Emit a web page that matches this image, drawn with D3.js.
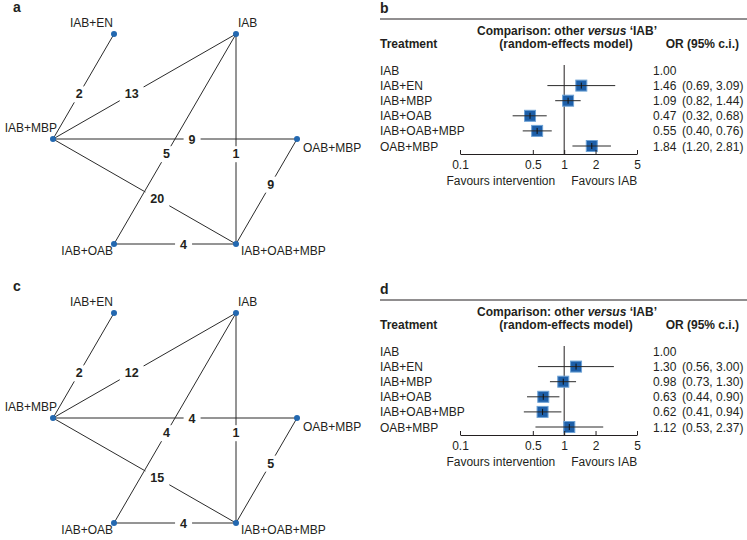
<!DOCTYPE html>
<html><head><meta charset="utf-8">
<script src="https://cdn.jsdelivr.net/npm/d3@7"></script>
<style>
body{margin:0;background:#fff}
text{font-family:"Liberation Sans",Arial,Helvetica,sans-serif;fill:#231f20}
</style>
</head><body>
<svg id="chart" width="747" height="540"></svg>
<script>
// ---------- DATA ----------
const treatments = ["IAB+EN", "IAB", "IAB+MBP", "OAB+MBP", "IAB+OAB", "IAB+OAB+MBP"];
// network edges: [from, to, number of studies]
const edgesA = [
  ["IAB+EN", "IAB+MBP", 2], ["IAB", "IAB+MBP", 13], ["IAB+MBP", "OAB+MBP", 9],
  ["IAB", "IAB+OAB+MBP", 1], ["IAB", "IAB+OAB", 5], ["IAB+MBP", "IAB+OAB+MBP", 20],
  ["IAB+OAB+MBP", "OAB+MBP", 9], ["IAB+OAB", "IAB+OAB+MBP", 4]
];
const edgesC = [
  ["IAB+EN", "IAB+MBP", 2], ["IAB", "IAB+MBP", 12], ["IAB+MBP", "OAB+MBP", 4],
  ["IAB", "IAB+OAB+MBP", 1], ["IAB", "IAB+OAB", 4], ["IAB+MBP", "IAB+OAB+MBP", 15],
  ["IAB+OAB+MBP", "OAB+MBP", 5], ["IAB+OAB", "IAB+OAB+MBP", 4]
];
const forestTreatments = ["IAB", "IAB+EN", "IAB+MBP", "IAB+OAB", "IAB+OAB+MBP", "OAB+MBP"];
const orB   = [1.00, 1.46, 1.09, 0.47, 0.55, 1.84];
const lowB  = [null, 0.69, 0.82, 0.32, 0.40, 1.20];
const highB = [null, 3.09, 1.44, 0.68, 0.76, 2.81];
const orD   = [1.00, 1.30, 0.98, 0.63, 0.62, 1.12];
const lowD  = [null, 0.56, 0.73, 0.44, 0.41, 0.53];
const highD = [null, 3.00, 1.30, 0.90, 0.94, 2.37];
const axisTicks = [0.1, 0.5, 1, 2, 5];

// ---------- LAYOUT ----------
const nodeGrid = {
  "IAB+EN": [1, 0], "IAB": [3, 0], "IAB+MBP": [0, 1],
  "OAB+MBP": [4, 1], "IAB+OAB": [1, 2], "IAB+OAB+MBP": [3, 2]
};
const nodeLabel = {
  "IAB+EN": {dx: -1, dy: -7, a: "end"},
  "IAB": {dx: 2, dy: -7, a: "start"},
  "IAB+MBP": {dx: 4, dy: -7, a: "end"},
  "OAB+MBP": {dx: 6, dy: 13, a: "start"},
  "IAB+OAB": {dx: -1, dy: 11, a: "end"},
  "IAB+OAB+MBP": {dx: 5, dy: 11, a: "start"}
};
const BLUE = "#2368b0";
const svg = d3.select("#chart");

function network(letter, edges, off) {
  const g = svg.append("g");
  const x = d3.scaleLinear().domain([0, 4]).range([53, 297]);
  const y = d3.scaleLinear().domain([0, 2]).range([34 + off, 244 + off]);
  const px = n => x(nodeGrid[n][0]), py = n => y(nodeGrid[n][1]);
  g.append("text").attr("x", 13).attr("y", 12 + off).attr("font-weight", "bold")
    .attr("font-size", 14).text(letter);
  g.selectAll("line.e").data(edges).join("line").attr("class", "e")
    .attr("x1", d => px(d[0])).attr("y1", d => py(d[0]))
    .attr("x2", d => px(d[1])).attr("y2", d => py(d[1]))
    .attr("stroke", "#2b2b2b").attr("stroke-width", 1);
  const t = 0.57;
  const lg = g.selectAll("g.lab").data(edges).join("g").attr("class", "lab")
    .attr("transform", d => `translate(${px(d[0]) + t * (px(d[1]) - px(d[0]))},${py(d[0]) + t * (py(d[1]) - py(d[0]))})`);
  lg.append("rect").attr("fill", "#fff");
  lg.append("text").attr("text-anchor", "middle").attr("dy", "0.36em")
    .attr("font-weight", "bold").attr("font-size", 12.5).text(d => d[2]);
  lg.each(function () {
    const b = d3.select(this).select("text").node().getBBox();
    d3.select(this).select("rect").attr("x", b.x - 5).attr("y", b.y - 1)
      .attr("width", b.width + 10).attr("height", b.height + 2);
  });
  g.selectAll("circle").data(treatments).join("circle")
    .attr("cx", px).attr("cy", py).attr("r", 3).attr("fill", BLUE);
  g.selectAll("text.nl").data(treatments).join("text").attr("class", "nl")
    .attr("x", d => px(d) + nodeLabel[d].dx).attr("y", d => py(d) + nodeLabel[d].dy)
    .attr("text-anchor", d => nodeLabel[d].a).attr("font-size", 12).text(d => d);
}

function forest(letter, ors, lows, highs, off) {
  const g = svg.append("g");
  const x = d3.scaleLog().domain([0.1, 5]).range([460, 637]);
  const y = d3.scalePoint().domain(forestTreatments).range([70.5 + off, 146 + off]);
  g.append("text").attr("x", 380).attr("y", 13 + off).attr("font-weight", "bold")
    .attr("font-size", 14).text(letter);
  g.append("line").attr("x1", 380).attr("x2", 747).attr("y1", 19 + off).attr("y2", 19 + off)
    .attr("stroke", "#231f20").attr("stroke-width", 1);
  const h1 = g.append("text").attr("x", 567).attr("y", 35 + off).attr("text-anchor", "middle")
    .attr("font-weight", "bold").attr("font-size", 12);
  h1.append("tspan").text("Comparison: other ");
  h1.append("tspan").attr("font-style", "italic").text("versus");
  h1.append("tspan").text(" \u2018IAB\u2019");
  g.append("text").attr("x", 566).attr("y", 47.5 + off).attr("text-anchor", "middle")
    .attr("font-weight", "bold").attr("font-size", 12).text("(random-effects model)");
  g.append("text").attr("x", 380).attr("y", 47.5 + off)
    .attr("font-weight", "bold").attr("font-size", 12).text("Treatment");
  g.append("text").attr("x", 739).attr("y", 47.5 + off).attr("text-anchor", "end")
    .attr("font-weight", "bold").attr("font-size", 12).text("OR (95% c.i.)");

  const rows = forestTreatments.map((t, i) => ({t, or: ors[i], lo: lows[i], hi: highs[i]}));
  const axisY = 154 + off;
  g.append("line").attr("x1", x(1)).attr("x2", x(1)).attr("y1", 65 + off).attr("y2", axisY)
    .attr("stroke", "#231f20").attr("stroke-width", 1);
  g.selectAll("text.tr").data(rows).join("text").attr("class", "tr")
    .attr("x", 380).attr("y", d => y(d.t) + 4.5).attr("font-size", 12).text(d => d.t);
  g.selectAll("text.or").data(rows).join("text").attr("class", "or")
    .attr("x", 653).attr("y", d => y(d.t) + 4.5).attr("font-size", 12).text(d => d.or.toFixed(2));
  g.selectAll("text.ci").data(rows.filter(d => d.lo != null)).join("text").attr("class", "ci")
    .attr("x", 682).attr("y", d => y(d.t) + 4.5).attr("font-size", 12)
    .text(d => `(${d.lo.toFixed(2)}, ${d.hi.toFixed(2)})`);
  const est = rows.filter(d => d.lo != null);
  g.selectAll("rect.sq").data(est).join("rect").attr("class", "sq")
    .attr("x", d => x(d.or) - 5.5).attr("y", d => y(d.t) - 5.5).attr("width", 11).attr("height", 11)
    .attr("fill", "#1d5fa9").attr("stroke", "#6fa3d6").attr("stroke-width", 1);
  g.selectAll("line.ci").data(est).join("line").attr("class", "ci")
    .attr("x1", d => x(d.lo)).attr("x2", d => x(d.hi)).attr("y1", d => y(d.t)).attr("y2", d => y(d.t))
    .attr("stroke", "#2b2b2b").attr("stroke-width", 1);
  g.selectAll("line.tk").data(est).join("line").attr("class", "tk")
    .attr("x1", d => x(d.or)).attr("x2", d => x(d.or)).attr("y1", d => y(d.t) - 3).attr("y2", d => y(d.t) + 3)
    .attr("stroke", "#111").attr("stroke-width", 1);

  const ax = g.append("g").attr("transform", `translate(0,${axisY})`)
    .call(d3.axisBottom(x).tickValues(axisTicks).tickFormat(d3.format("~g"))
      .tickSizeInner(-4).tickSizeOuter(0).tickPadding(6));
  ax.select(".domain").attr("stroke", "#231f20");
  ax.selectAll(".tick line").attr("stroke", "#231f20");
  ax.selectAll(".tick text").attr("font-size", 12).attr("font-family", "Liberation Sans, Arial, sans-serif").attr("fill", "#231f20");
  g.append("text").attr("x", x(1) - 9).attr("y", 184.5 + off).attr("text-anchor", "end")
    .attr("font-size", 12).text("Favours intervention");
  g.append("text").attr("x", x(1) + 7).attr("y", 184.5 + off)
    .attr("font-size", 12).text("Favours IAB");
}

network("a", edgesA, 0);
network("c", edgesC, 279);
forest("b", orB, lowB, highB, 0);
forest("d", orD, lowD, highD, 281);
</script>
</body></html>
